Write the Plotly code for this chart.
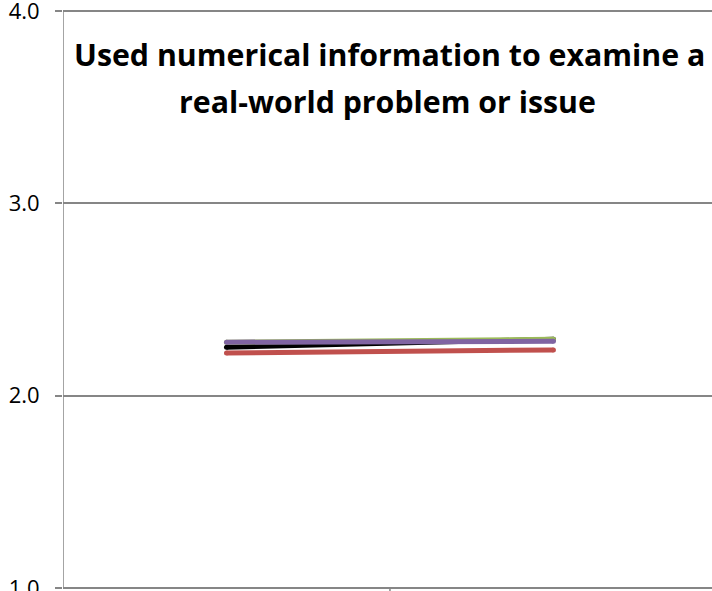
import plotly.graph_objects as go

categories = ["First-Year", "Senior"]
series_names = ["Overall", "Group A", "Group B", "Group C"]
series_colors = ["#000000", "#C0504D", "#9BBB59", "#8064A2"]
series_values = [
    [2.252, 2.293],   # black
    [2.222, 2.238],   # red
    [2.278, 2.293],   # green
    [2.278, 2.283],   # purple
]
y_ticks = [1.0, 2.0, 3.0, 4.0]
title_lines = ["Used numerical information to examine a", "real-world problem or issue"]

x_idx = list(range(len(categories)))

fig = go.Figure()
for name, color, vals in zip(series_names, series_colors, series_values):
    fig.add_trace(go.Scatter(
        x=x_idx, y=vals, name=name, mode="lines+markers",
        line=dict(color=color, width=5),
        marker=dict(color=color, size=5, line=dict(width=0)),
        hoverinfo="skip", showlegend=False,
    ))

fig.update_layout(
    width=712, height=591,
    margin=dict(l=63, r=0, t=9, b=1, autoexpand=False),
    paper_bgcolor="white", plot_bgcolor="white",
    font=dict(family="Open Sans", color="black"),
    showlegend=False,
)
fig.update_xaxes(
    range=[-0.5, 1.485], showgrid=False, zeroline=False, automargin=False,
    showline=False, showticklabels=False, ticks="",
)
fig.update_yaxes(
    range=[0.99, 4.01], tickmode="array", tickvals=y_ticks, automargin=False,
    ticktext=[f"{v:.1f}" for v in y_ticks], ticklabeloverflow="allow",
    showgrid=True, gridcolor="#868686", gridwidth=1.5, zeroline=False,
    showline=False,
    ticks="outside", ticklen=7, tickcolor="#868686", tickwidth=1.5,
    tickfont=dict(family="Open Sans", size=22, color="black"),
    ticklabelstandoff=11,
)
# vertical axis line at the category-axis start
fig.add_shape(type="line", xref="x", yref="y", x0=-0.5, x1=-0.5, y0=1, y1=4,
              line=dict(color="#868686", width=1.5))
# category boundary tick below the horizontal axis
fig.add_shape(type="line", xref="x", yref="paper", x0=0.5, x1=0.5,
              y0=-0.02, y1=0.0033, line=dict(color="#868686", width=1.5))
for i, (txt, ypx) in enumerate(zip(title_lines, [54, 101])):
    fig.add_annotation(
        text="<b>%s</b>" % txt, xref="x", yref="paper",
        x=0.4985 if i == 0 else 0.492, y=1 - (ypx - 9) / 581.0,
        xanchor="center", yanchor="middle", showarrow=False,
        font=dict(family="Open Sans", size=30.3, color="black"),
    )

fig.write_html("out.html", config={"displayModeBar": False},
               post_script="document.body.style.margin='0';")
